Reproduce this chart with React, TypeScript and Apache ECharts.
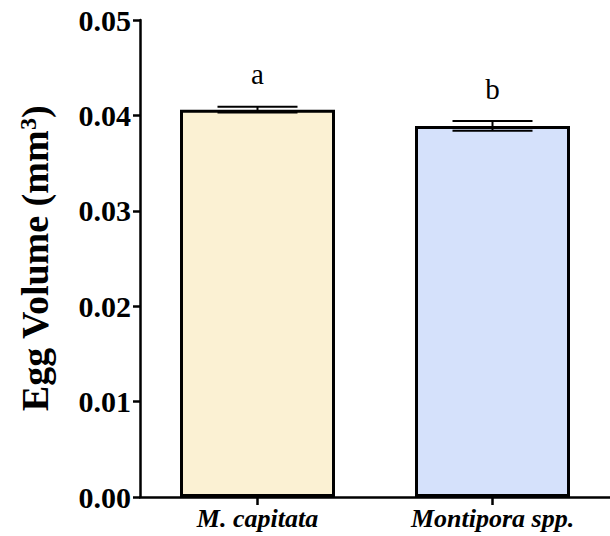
import React, { useEffect, useRef } from "react";
import * as echarts from "echarts";

const categories = ["M. capitata", "Montipora spp."];
const means = [0.0406, 0.0389];
const errors = [0.0003, 0.0005];
const letters = ["a", "b"];
const barColors = ["#FBF1D3", "#D5E1FB"];
const yTicks = [0, 0.01, 0.02, 0.03, 0.04, 0.05];

const FONT = "'Liberation Serif', 'Times New Roman', serif";

export default function App() {
  const ref = useRef<HTMLDivElement>(null);
  useEffect(() => {
    if (!ref.current) return;
    const chart = echarts.init(ref.current, null, { renderer: "svg" });
    const option = {
      animation: false,
      backgroundColor: "#ffffff",
      grid: { left: 140, top: 20, width: 476, height: 477, containLabel: false },
      xAxis: {
        type: "category",
        data: categories,
        axisLine: { show: true, lineStyle: { color: "#000", width: 2.5 } },
        axisTick: { show: true, alignWithLabel: true, length: 8, lineStyle: { color: "#000", width: 2.5 } },
        axisLabel: {
          margin: 8,
          color: "#000",
          fontFamily: FONT,
          fontSize: 26,
          fontWeight: "bold",
          fontStyle: "italic",
        },
      },
      yAxis: {
        type: "value",
        min: yTicks[0],
        max: yTicks[yTicks.length - 1],
        interval: 0.01,
        splitLine: { show: false },
        axisLine: { show: true, lineStyle: { color: "#000", width: 2.5 } },
        axisTick: { show: true, length: 7, lineStyle: { color: "#000", width: 2.5 } },
        axisLabel: {
          margin: 9,
          color: "#000",
          fontFamily: FONT,
          fontSize: 30,
          fontWeight: "bold",
          formatter: (v: number) => v.toFixed(2),
        },
        name: "Egg Volume (mm{sup|3})",
        nameLocation: "middle",
        nameGap: 86,
        nameTextStyle: {
          color: "#000",
          fontFamily: FONT,
          fontSize: 38,
          fontWeight: "bold",
          rich: {
            sup: {
              fontFamily: FONT,
              fontSize: 24,
              fontWeight: "bold",
              color: "#000",
              verticalAlign: "top",
            },
          },
        },
      },
      series: [
        {
          type: "bar",
          barWidth: 155,
          data: means.map((m, i) => ({
            value: m,
            itemStyle: { color: barColors[i], borderColor: "#000", borderWidth: 3 },
          })),
          z: 2,
        },
        {
          type: "custom",
          z: 5,
          data: means.map((m, i) => [i, m, errors[i]]),
          renderItem: (params: any, api: any) => {
            const idx = api.value(0);
            const m = api.value(1);
            const e = api.value(2);
            const top = api.coord([idx, m + e]);
            const bot = api.coord([idx, m - e]);
            const x = top[0];
            const hw = 40;
            const style = { stroke: "#000", lineWidth: 2 };
            return {
              type: "group",
              children: [
                { type: "line", shape: { x1: x - hw, y1: top[1], x2: x + hw, y2: top[1] }, style },
                { type: "line", shape: { x1: x - hw, y1: bot[1], x2: x + hw, y2: bot[1] }, style },
                { type: "line", shape: { x1: x, y1: top[1], x2: x, y2: bot[1] }, style },
                {
                  type: "text",
                  x: x,
                  y: top[1] - 18,
                  style: {
                    text: letters[params.dataIndex],
                    fill: "#000",
                    font: `29px ${FONT}`,
                    align: "center",
                    verticalAlign: "bottom",
                  },
                },
              ],
            };
          },
        },
      ],
    };
    chart.setOption(option as any);
    return () => chart.dispose();
  }, []);
  return (
    <div
      ref={ref}
      style={{ position: "fixed", left: 0, top: 0, width: 610, height: 536, background: "#fff" }}
    />
  );
}
